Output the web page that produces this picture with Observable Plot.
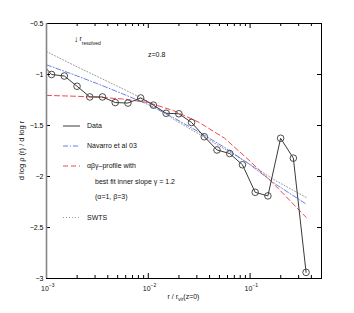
<!DOCTYPE html>
<html><head><meta charset="utf-8">
<script src="https://cdn.jsdelivr.net/npm/d3@7"></script>
<script src="https://cdn.jsdelivr.net/npm/@observablehq/plot@0.6"></script>
<style>html,body{margin:0;padding:0;background:#fff}</style>
</head><body><div id="chart"></div>
<script>
const FONT = '"Liberation Sans", Arial, Helvetica, sans-serif';

// measured profile slopes (log10 r / r_vir(z=0), d log rho / d log r)
const dataLogR  = [-2.95,-2.825,-2.7,-2.575,-2.45,-2.325,-2.2,-2.075,-1.95,-1.825,-1.7,-1.575,-1.45,-1.325,-1.2,-1.075,-0.95,-0.825,-0.7,-0.575,-0.45];
const dataSlope = [-1.00,-1.015,-1.115,-1.22,-1.22,-1.275,-1.28,-1.23,-1.30,-1.38,-1.385,-1.47,-1.61,-1.74,-1.775,-1.885,-2.155,-2.19,-1.625,-1.82,-2.94];
// the data line continues beyond the left edge of the frame
const leadLogR  = [-3.075];
const leadSlope = [-0.86];

// model curves
const curveLogR = [-3,-2.75,-2.5,-2.25,-2,-1.75,-1.5,-1.25,-1,-0.75,-0.45];
const navarro03 = [-0.905,-0.995,-1.09,-1.19,-1.295,-1.425,-1.565,-1.715,-1.885,-2.075,-2.27];
const abgFit    = [-1.205,-1.212,-1.222,-1.24,-1.275,-1.355,-1.47,-1.625,-1.85,-2.09,-2.40];
const swts      = [-0.775,-0.90,-1.02,-1.14,-1.265,-1.44,-1.585,-1.73,-1.88,-2.04,-2.205];

// axes
const xDomain = [1e-3, 0.503];
const yDomain = [-3, -0.5];
const xMajorTicks = [1e-3, 1e-2, 1e-1];
const xMajorExp = ["\u22123", "\u22122", "\u22121"];
const xMinorTicks = [2e-3,3e-3,4e-3,5e-3,6e-3,7e-3,8e-3,9e-3,2e-2,3e-2,4e-2,5e-2,6e-2,7e-2,8e-2,9e-2,2e-1,3e-1,4e-1];
const yTicks = [-3,-2.5,-2,-1.5,-1,-0.5];

// legend / annotation texts
const legendLabels = ["Data", "Navarro et al 03", "\u03b1\u03b2\u03b3\u2013profile with", "SWTS"];
const legendExtra = ["best fit inner slope \u03b3 = 1.2", "(\u03b1=1, \u03b2=3)"];
const redshiftLabel = "z=0.8";
const yLabel = "d log \u03c1 (r) / d log r";

const dataRows = dataLogR.map((l, i) => ({r: 10 ** l, s: dataSlope[i]}));
const lineRows = leadLogR.map((l, i) => ({r: 10 ** l, s: leadSlope[i]})).concat(dataRows);
const curveRows = (vals) => curveLogR.map((l, i) => ({r: 10 ** l, s: vals[i]}));

const W = 354, H = 313, mL = 46, mR = 33, mT = 23, mB = 35;
const pH = H - mT - mB, pW = W - mL - mR;

const BLUE = "#6a7fe8", RED = "#f04a4a", GREY = "#9a9a9a", DARK = "#3a3a3a";
const styles = {
  data: {stroke: DARK, strokeWidth: 1},
  nav: {stroke: BLUE, strokeWidth: 1, strokeDasharray: "5,2,1,2"},
  abg: {stroke: RED, strokeWidth: 1, strokeDasharray: "5,3"},
  swts: {stroke: GREY, strokeWidth: 1, strokeDasharray: "1,2"}
};

function annotations(index, scales, values, dims) {
  const g = d3.create("svg:g").attr("font-family", FONT).attr("fill", "#111").attr("font-size", 7)
    .attr("text-anchor", "start");
  const L = dims.marginLeft, T = dims.marginTop;
  const B = dims.height - dims.marginBottom;
  // x tick labels 10^k
  xMajorTicks.forEach((v, i) => {
    const t = g.append("text").attr("x", scales.x(v) - 5).attr("y", B + 13);
    t.append("tspan").text("10");
    t.append("tspan").attr("dy", -4).attr("font-size", 5).text(xMajorExp[i]);
  });
  // x label
  const xl = g.append("text").attr("x", L + pW / 2).attr("y", B + 20.5).attr("text-anchor", "middle");
  xl.append("tspan").text("r / r");
  xl.append("tspan").attr("dy", 2).attr("font-size", 5).text("vir");
  xl.append("tspan").attr("dy", -2).text("(z=0)");
  // y label
  g.append("text").attr("transform", `translate(${L - 22},${T + pH / 2}) rotate(-90)`)
    .attr("text-anchor", "middle").attr("font-size", 7.5).text(yLabel);
  // resolution marker
  const rr = g.append("text").attr("x", L + 28).attr("y", T + 19);
  rr.append("tspan").attr("font-size", 9).text("\u2193");
  rr.append("tspan").attr("dx", 1).attr("dy", -1).text("r");
  rr.append("tspan").attr("dy", 4).attr("font-size", 5).text("resolved");
  // redshift
  g.append("text").attr("x", L + 102).attr("y", T + 33.5).text(redshiftLabel);
  // legend
  const rows = [
    {y: 103, st: styles.data, label: legendLabels[0]},
    {y: 123, st: styles.nav, label: legendLabels[1]},
    {y: 143, st: styles.abg, label: legendLabels[2]},
    {y: 194.5, st: styles.swts, label: legendLabels[3]}
  ];
  rows.forEach(row => {
    g.append("line").attr("x1", L + 17).attr("x2", L + 34).attr("y1", T + row.y).attr("y2", T + row.y)
      .attr("stroke", row.st.stroke).attr("stroke-width", row.st.strokeWidth)
      .attr("stroke-dasharray", row.st.strokeDasharray || null);
    g.append("text").attr("x", L + 41).attr("y", T + row.y).attr("dy", "0.35em").text(row.label);
  });
  legendExtra.forEach((txt, i) => {
    g.append("text").attr("x", L + 49).attr("y", T + 159 + i * 15).attr("dy", "0.35em").text(txt);
  });
  return g.node();
}

const plot = Plot.plot({
  width: W, height: H,
  marginLeft: mL, marginRight: mR, marginTop: mT, marginBottom: mB,
  style: {fontFamily: FONT, fontSize: "7px", background: "#fff", color: "#000"},
  x: {type: "log", domain: xDomain, axis: null},
  y: {domain: yDomain, axis: null},
  marks: [
    Plot.line(curveRows(swts), {x: "r", y: "s", ...styles.swts}),
    Plot.line(curveRows(navarro03), {x: "r", y: "s", ...styles.nav}),
    Plot.line(curveRows(abgFit), {x: "r", y: "s", ...styles.abg}),
    Plot.line(lineRows, {x: "r", y: "s", ...styles.data, clip: true}),
    Plot.dot(dataRows, {x: "r", y: "s", r: 3.3, stroke: DARK, strokeWidth: 0.9, fill: "none"}),
    // inward ticks
    Plot.tickX(xMajorTicks, {x: d => d, insetTop: pH - 5, stroke: "#000"}),
    Plot.tickX(xMajorTicks, {x: d => d, insetBottom: pH - 5, stroke: "#000"}),
    Plot.tickX(xMinorTicks, {x: d => d, insetTop: pH - 3, stroke: "#000"}),
    Plot.tickX(xMinorTicks, {x: d => d, insetBottom: pH - 3, stroke: "#000"}),
    Plot.tickY(yTicks, {y: d => d, insetRight: pW - 4, stroke: "#000"}),
    Plot.tickY(yTicks, {y: d => d, insetLeft: pW - 4, stroke: "#000"}),
    Plot.axisY({ticks: yTicks, tickSize: 0, tickPadding: 3, label: null, fontSize: 7,
      tickFormat: d => d3.format("")(d)}),
    Plot.frame({stroke: "#000", strokeWidth: 1}),
    Plot.ruleX([xDomain[0]], {stroke: "#858585", strokeWidth: 1.6}),
    annotations
  ]
});
document.getElementById("chart").appendChild(plot);
</script>
</body></html>
